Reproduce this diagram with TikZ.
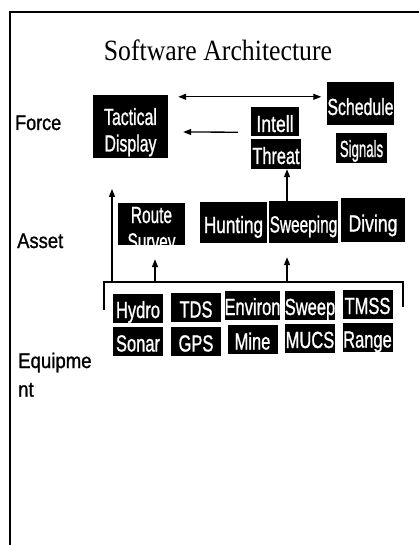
\documentclass[tikz,border=0pt]{standalone}
\usepackage{fontspec}
\usepackage{graphicx}
\usetikzlibrary{arrows.meta,calc}
\newfontfamily\arialf[FakeBold=1.2]{Liberation Sans}
\newfontfamily\timesf{Liberation Serif}
\newcommand{\nar}[2][0.75]{\scalebox{#1}[1.06]{#2}}
\newcommand{\twol}[2]{\begin{tabular}[t]{@{}c@{}}#1\\#2\end{tabular}}
\begin{document}
\begin{tikzpicture}[x=1pt,y=-1pt,
  box/.style={fill=black, text=white, inner sep=0pt, font=\arialf\fontsize{22}{25}\selectfont, text height=20pt, text depth=0pt},
  eq/.style={box, minimum width=50pt, minimum height=29pt},
  lab/.style={font=\arialf\fontsize{20}{27}\selectfont, inner sep=0pt, anchor=base west},
  arr/.style={line width=1.3pt, -{Triangle[length=8pt,width=6pt]}},
  darr/.style={line width=1.3pt, {Triangle[length=8pt,width=6pt]}-{Triangle[length=8pt,width=6pt]}},
  brk/.style={line width=1.3pt}]
\useasboundingbox (0,0) rectangle (419,545);
\fill[white] (0,0) rectangle (419,545);
% frame
\coordinate (fb) at (10,545); \coordinate (fc) at (10,12); \coordinate (fr) at (419,12);
\draw[line width=1.2pt] (fb) -- (fc) -- (fr);
% title
\node[font=\timesf\fontsize{28}{30}\selectfont, anchor=base, inner sep=0pt] (title) at (218,61) {\scalebox{0.92}[1.05]{Software Architecture}};
% level labels
\node[lab] (force) at (15,130) {\nar[0.9]{Force}};
\node[lab] (asset) at (17,248) {\nar[0.92]{Asset}};
\node[lab] (equip) at (18,368) {\nar[0.93]{\begin{tabular}[t]{@{}l@{}}Equipme\\nt\end{tabular}}};
% force level
\node[box, minimum width=75pt, minimum height=63pt, text height=0pt, text depth=3pt] (tac) at (130.5,126.5) {\nar[0.72]{\twol{Tactical}{Display}}};
\node[box, minimum width=48pt, minimum height=29pt, text height=21pt] (intell) at (275,121.5) {\nar[0.8]{Intell}};
\node[box, minimum width=50pt, minimum height=30pt] (threat) at (276,154) {\nar[0.74]{Threat}};
\node[box, minimum width=65pt, minimum height=43pt, text height=23pt] (sched) at (360.5,103.5) {\nar[0.72]{Schedule}};
\node[box, minimum width=51pt, minimum height=30pt, text height=18pt] (signals) at (361.5,148) {\nar[0.6]{Signals}};
% asset level
\node[box, minimum width=67pt, minimum height=42pt, text height=0pt, text depth=2pt] (route) at (151.5,224) {\nar[0.7]{\twol{Route}{Survey}}};
\node[box, minimum width=67pt, minimum height=41pt, text height=21pt] (hunt) at (233.5,222.5) {\nar[0.78]{Hunting}};
\node[box, minimum width=69pt, minimum height=42pt, text height=21pt] (sweeping) at (303.5,222) {\nar[0.7]{Sweeping}};
\node[box, minimum width=64pt, minimum height=44pt, text height=23pt] (diving) at (373,220) {\nar[0.8]{Diving}};
% equipment level
\node[eq] (hydro) at (138,308) {\nar{Hydro}};
\node[eq] (tds) at (196,307.5) {\nar{TDS}};
\node[eq] (environ) at (252.5,305) {\nar{Environ}};
\node[eq] (sweep) at (310,305) {\nar{Sweep}};
\node[eq] (tmss) at (367.5,304) {\nar{TMSS}};
\node[eq] (sonar) at (138,341.5) {\nar{Sonar}};
\node[eq] (gps) at (196,341.5) {\nar{GPS}};
\node[eq] (mine) at (252.5,339.5) {\nar{Mine}};
\node[eq] (mucs) at (310,338) {\nar{MUCS}};
\node[eq] (range) at (367.5,337.5) {\nar{Range}};
% connectors
\draw[darr] ($(tac.north east)+(10,2)$) -- ($(sched.north west)+(-6,15)$);
\draw[arr] ($(intell.south west)+(-13,-4)$) -- ($(tac.east)+(15,5.5)$);
\coordinate (ax) at (287,0);
\draw[arr] (sweeping.north -| ax) -- (threat.south -| ax);
\coordinate (bl) at (104,310); \coordinate (blt) at (104,282);
\coordinate (brt) at (403,282); \coordinate (br) at (403,307);
\draw[brk] (bl) -- (blt) -- (brt) -- (br);
\coordinate (up) at (112,189);
\draw[arr] (up |- blt) -- (up);
\coordinate (rt) at ($(route.south)+(3.5,14)$);
\draw[arr] (rt |- blt) -- (rt);
\coordinate (st) at ($(sweeping.south)+(-16.5,14)$);
\draw[arr] (st |- blt) -- (st);
\end{tikzpicture}
\end{document}
